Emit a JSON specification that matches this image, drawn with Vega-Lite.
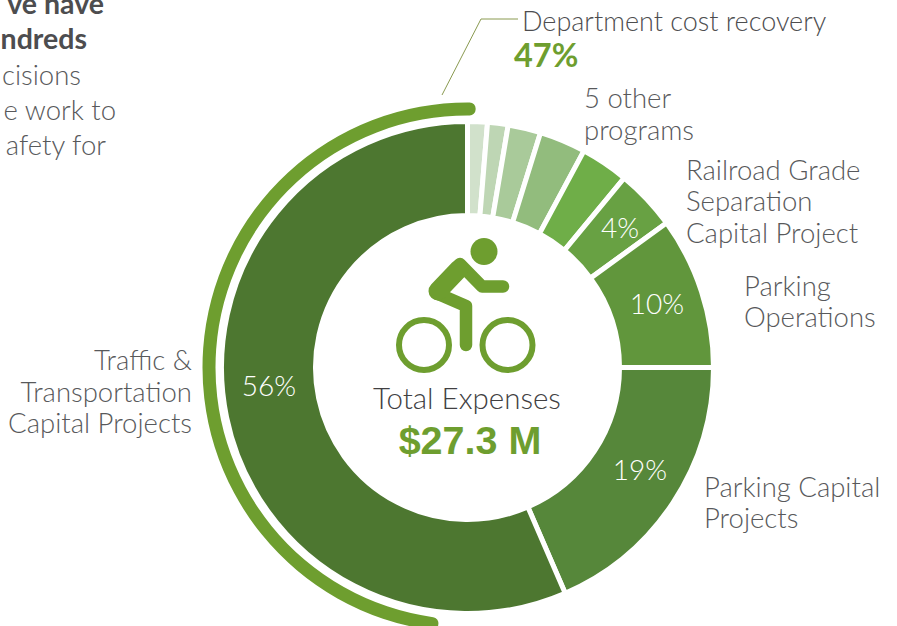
{
"$schema":"https://vega.github.io/schema/vega-lite/v6.json",
"width":859,"height":517,"autosize":"none","padding":{"left":38,"top":109,"right":0,"bottom":0},
"background":"white","view":{"stroke":null},
"datasets":{
"slices":[
{"program":"Other program A","share":1.3,"rank":1},
{"program":"Other program B","share":1.35,"rank":2},
{"program":"Other program C","share":2.15,"rank":3},
{"program":"Other program D","share":3.05,"rank":4},
{"program":"Other program E","share":3.15,"rank":5},
{"program":"Railroad Grade Separation Capital Project","share":4,"rank":6},
{"program":"Parking Operations","share":10,"rank":7},
{"program":"Parking Capital Projects","share":18.5,"rank":8},
{"program":"Traffic & Transportation Capital Projects","share":56.5,"rank":9}],
"recovery":[{"name":"Department cost recovery","from":51.8,"to":100.5}],
"leader":[{"px":442,"py":95,"seq":1},{"px":481,"py":19,"seq":2},{"px":518,"py":19,"seq":3}],
"grayLabels":[
{"t":"5 other","px":584,"py":108},{"t":"programs","px":584,"py":140},
{"t":"Railroad Grade","px":686,"py":180},{"t":"Separation","px":686,"py":211},{"t":"Capital Project","px":686,"py":243},
{"t":"Parking","px":744,"py":296},{"t":"Operations","px":744,"py":327},
{"t":"Parking Capital","px":704,"py":497},{"t":"Projects","px":704,"py":528}],
"rightLabels":[{"t":"Traffic &","px":192,"py":370},{"t":"Transportation","px":192,"py":402},{"t":"Capital Projects","px":192,"py":433},
{"t":"cisions","px":81,"py":85},{"t":"e work to","px":116,"py":120},{"t":"afety for","px":106,"py":155}],
"whiteLabels":[{"t":"56%","px":269,"py":396},{"t":"19%","px":640,"py":480},{"t":"10%","px":657,"py":314},{"t":"4%","px":620,"py":238}],
"boldGray":[{"t":"ve have","px":104,"py":14},{"t":"ndreds","px":87,"py":49}],
"wheels":[{"px":424,"py":345},{"px":507.5,"py":345}],
"head":[{"px":484,"py":251.5}],
"limbs":[{"px":503,"py":286.5,"seq":1},{"px":482,"py":286.5,"seq":2},{"px":460,"py":264,"seq":3},{"px":436,"py":293,"seq":4},{"px":466,"py":306,"seq":5},{"px":466,"py":345,"seq":6}],
"torso":[{"px":459,"py":269,"seq":1},{"px":438,"py":291,"seq":2}]
},
"layer":[
{"data":{"name":"recovery"},
 "mark":{"type":"arc","radius":265,"radius2":252,"cornerRadius":6,"color":"#6e9e2f"},
 "encoding":{"theta":{"field":"from","type":"quantitative","scale":{"domain":[0,100]}},"theta2":{"field":"to"}}},
{"data":{"name":"slices"},
 "mark":{"type":"arc","radius":246,"radius2":152,"stroke":"white","strokeWidth":5},
 "encoding":{
  "theta":{"field":"share","type":"quantitative","stack":"zero","scale":{"domain":[0,100]}},
  "order":{"field":"rank","type":"quantitative"},
  "color":{"field":"program","type":"nominal","legend":null,"scale":{
   "domain":["Other program A","Other program B","Other program C","Other program D","Other program E","Railroad Grade Separation Capital Project","Parking Operations","Parking Capital Projects","Traffic & Transportation Capital Projects"],
   "range":["#d1e1cb","#bed6b4","#a9ca9a","#92bc7d","#6fae48","#68a143","#61963c","#56873a","#4d7730"]}}}},
{"data":{"name":"leader"},
 "mark":{"type":"line","color":"#8a9a50","strokeWidth":1},
 "encoding":{"x":{"field":"px","type":"quantitative","axis":null,"scale":{"domain":[38,897],"nice":false,"zero":false}},
  "y":{"field":"py","type":"quantitative","axis":null,"scale":{"domain":[626,109],"nice":false,"zero":false}},
  "order":{"field":"seq","type":"quantitative"}}},
{"data":{"name":"wheels"},
 "mark":{"type":"point","shape":"circle","filled":false,"size":2500,"strokeWidth":6,"color":"#6e9e2f","opacity":1},
 "encoding":{"x":{"field":"px","type":"quantitative","axis":null,"scale":{"domain":[38,897],"nice":false,"zero":false}},
  "y":{"field":"py","type":"quantitative","axis":null,"scale":{"domain":[626,109],"nice":false,"zero":false}}}},
{"data":{"name":"head"},
 "mark":{"type":"point","shape":"circle","filled":true,"size":729,"color":"#6e9e2f","opacity":1},
 "encoding":{"x":{"field":"px","type":"quantitative","axis":null,"scale":{"domain":[38,897],"nice":false,"zero":false}},
  "y":{"field":"py","type":"quantitative","axis":null,"scale":{"domain":[626,109],"nice":false,"zero":false}}}},
{"data":{"name":"limbs"},
 "mark":{"type":"line","color":"#6e9e2f","strokeWidth":12.5,"strokeCap":"round","strokeJoin":"round"},
 "encoding":{"x":{"field":"px","type":"quantitative","axis":null,"scale":{"domain":[38,897],"nice":false,"zero":false}},
  "y":{"field":"py","type":"quantitative","axis":null,"scale":{"domain":[626,109],"nice":false,"zero":false}},
  "order":{"field":"seq","type":"quantitative"}}},
{"data":{"name":"torso"},
 "mark":{"type":"line","color":"#6e9e2f","strokeWidth":19,"strokeCap":"round","strokeJoin":"round"},
 "encoding":{"x":{"field":"px","type":"quantitative","axis":null,"scale":{"domain":[38,897],"nice":false,"zero":false}},
  "y":{"field":"py","type":"quantitative","axis":null,"scale":{"domain":[626,109],"nice":false,"zero":false}},
  "order":{"field":"seq","type":"quantitative"}}},
{"data":{"name":"grayLabels"},
 "mark":{"type":"text","align":"left","baseline":"alphabetic","font":"Lato","fontWeight":300,"fontSize":27.5,"color":"#58595b"},
 "encoding":{"text":{"field":"t"},"x":{"field":"px","type":"quantitative","axis":null,"scale":{"domain":[38,897],"nice":false,"zero":false}},
  "y":{"field":"py","type":"quantitative","axis":null,"scale":{"domain":[626,109],"nice":false,"zero":false}}}},
{"data":{"values":[{"t":"Department cost recovery","px":522,"py":31}]},
 "mark":{"type":"text","align":"left","baseline":"alphabetic","font":"Lato","fontWeight":300,"fontSize":27,"color":"#4d4d4f"},
 "encoding":{"text":{"field":"t"},"x":{"field":"px","type":"quantitative","axis":null,"scale":{"domain":[38,897],"nice":false,"zero":false}},
  "y":{"field":"py","type":"quantitative","axis":null,"scale":{"domain":[626,109],"nice":false,"zero":false}}}},
{"data":{"name":"rightLabels"},
 "mark":{"type":"text","align":"right","baseline":"alphabetic","font":"Lato","fontWeight":300,"fontSize":27.5,"color":"#58595b"},
 "encoding":{"text":{"field":"t"},"x":{"field":"px","type":"quantitative","axis":null,"scale":{"domain":[38,897],"nice":false,"zero":false}},
  "y":{"field":"py","type":"quantitative","axis":null,"scale":{"domain":[626,109],"nice":false,"zero":false}}}},
{"data":{"name":"whiteLabels"},
 "mark":{"type":"text","align":"center","baseline":"alphabetic","font":"Lato","fontWeight":300,"fontSize":28,"color":"white"},
 "encoding":{"text":{"field":"t"},"x":{"field":"px","type":"quantitative","axis":null,"scale":{"domain":[38,897],"nice":false,"zero":false}},
  "y":{"field":"py","type":"quantitative","axis":null,"scale":{"domain":[626,109],"nice":false,"zero":false}}}},
{"data":{"name":"boldGray"},
 "mark":{"type":"text","align":"right","baseline":"alphabetic","font":"Lato","fontWeight":700,"fontSize":28.5,"color":"#4d4d4f"},
 "encoding":{"text":{"field":"t"},"x":{"field":"px","type":"quantitative","axis":null,"scale":{"domain":[38,897],"nice":false,"zero":false}},
  "y":{"field":"py","type":"quantitative","axis":null,"scale":{"domain":[626,109],"nice":false,"zero":false}}}},
{"data":{"values":[{"t":"Total Expenses","px":467,"py":409}]},
 "mark":{"type":"text","align":"center","baseline":"alphabetic","font":"Lato","fontWeight":300,"fontSize":29.5,"color":"#414042"},
 "encoding":{"text":{"field":"t"},"x":{"field":"px","type":"quantitative","axis":null,"scale":{"domain":[38,897],"nice":false,"zero":false}},
  "y":{"field":"py","type":"quantitative","axis":null,"scale":{"domain":[626,109],"nice":false,"zero":false}}}},
{"data":{"values":[{"t":"47%","px":514,"py":67}]},
 "mark":{"type":"text","align":"left","baseline":"alphabetic","font":"Lato","fontWeight":700,"fontSize":32.5,"color":"#6e9e2f"},
 "encoding":{"text":{"field":"t"},"x":{"field":"px","type":"quantitative","axis":null,"scale":{"domain":[38,897],"nice":false,"zero":false}},
  "y":{"field":"py","type":"quantitative","axis":null,"scale":{"domain":[626,109],"nice":false,"zero":false}}}},
{"data":{"values":[{"t":"$27.3 M","px":470,"py":454}]},
 "mark":{"type":"text","align":"center","baseline":"alphabetic","font":"Liberation Sans","fontWeight":700,"fontSize":39.5,"color":"#6e9e2f"},
 "encoding":{"text":{"field":"t"},"x":{"field":"px","type":"quantitative","axis":null,"scale":{"domain":[38,897],"nice":false,"zero":false}},
  "y":{"field":"py","type":"quantitative","axis":null,"scale":{"domain":[626,109],"nice":false,"zero":false}}}}
]
}
